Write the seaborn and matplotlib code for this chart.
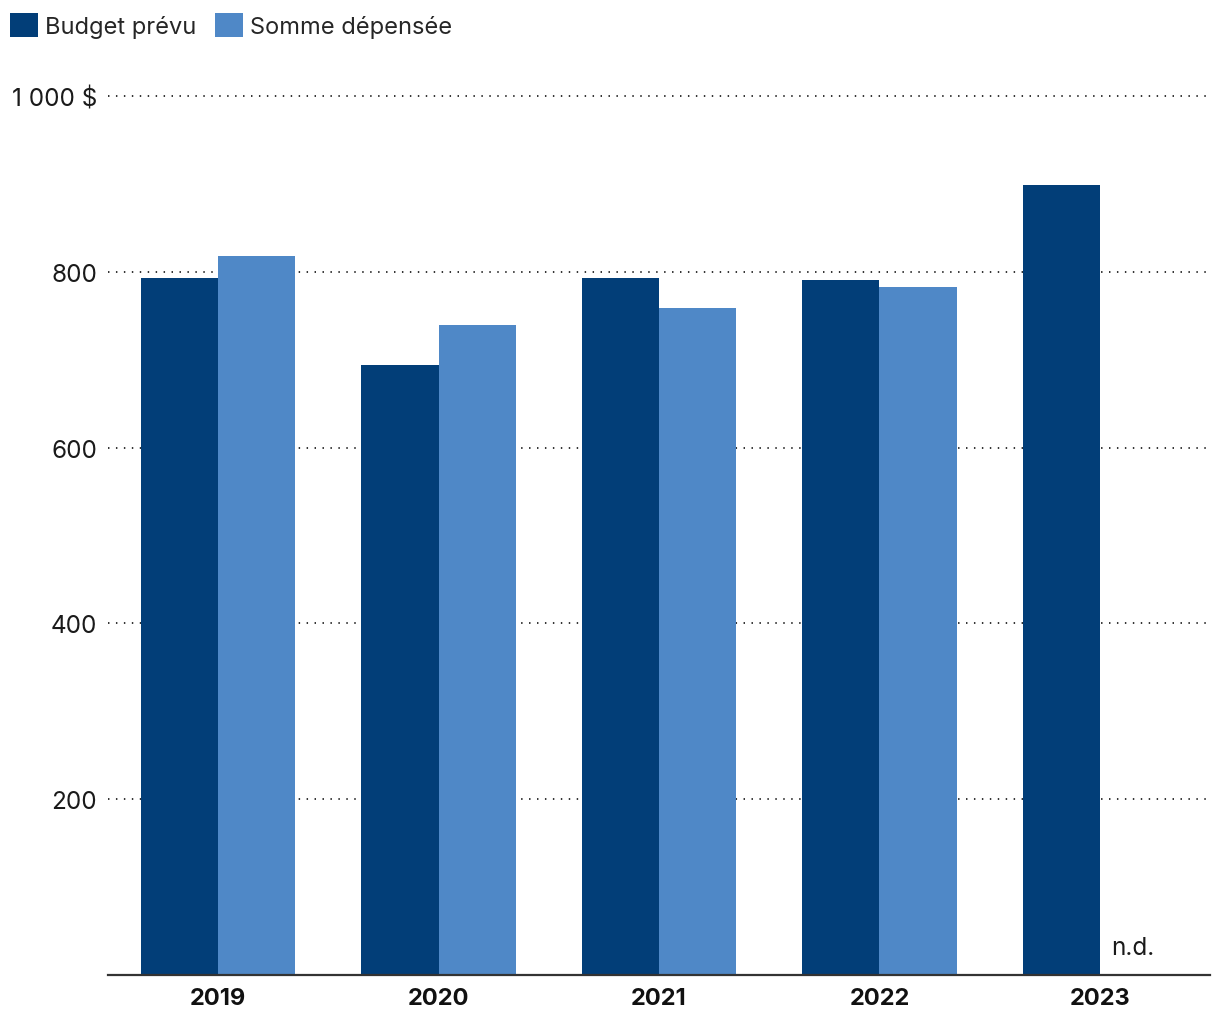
import pandas as pd
import numpy as np
import matplotlib
matplotlib.use('Agg')
import matplotlib.pyplot as plt
import seaborn as sns
from matplotlib.patches import Patch

# Chart data
years = ['2019', '2020', '2021', '2022', '2023']
budget = [793, 694, 793, 791, 899]
spent = [818, 739, 759, 783, np.nan]
series = ['Budget prévu', 'Somme dépensée']
colors = ['#023e78', '#4f88c7']
y_ticks = [200, 400, 600, 800, 1000]
y_labels = ['200', '400', '600', '800', '1 000 $']

df = pd.DataFrame({
    'year': years * 2,
    'value': budget + spent,
    'series': [series[0]] * len(years) + [series[1]] * len(years),
})

sns.set_theme(style='white')
plt.rcParams['font.family'] = ['Inter', 'DejaVu Sans']

fig = plt.figure(figsize=(12.2, 10.2), dpi=100)
ax = fig.add_axes([108 / 1220, 44 / 1020, (1210 - 108) / 1220, (976 - 97) / 1020])

sns.barplot(data=df, x='year', y='value', hue='series', palette=colors,
            width=0.7, gap=0, saturation=1, legend=False, linewidth=0,
            edgecolor='none', ax=ax, zorder=2)

ax.set_xlim(-0.5, 4.5)
ax.set_ylim(0, 1000)
ax.set_yticks(y_ticks)
ax.set_yticklabels(y_labels)
ax.set_xlabel('')
ax.set_ylabel('')

for y in y_ticks:
    ax.axhline(y, color='#222222', lw=1.3, ls=(0, (0.8, 3.6)), zorder=1, clip_on=False)

for side in ['top', 'right', 'left']:
    ax.spines[side].set_visible(False)
ax.spines['bottom'].set_color('#333333')
ax.spines['bottom'].set_linewidth(1.6)

ax.tick_params(axis='y', length=0, pad=8, labelsize=17.5, labelcolor='#1a1a1a')
ax.tick_params(axis='x', length=0, pad=9, labelsize=17, labelcolor='#111111')
for lbl in ax.get_xticklabels():
    lbl.set_fontweight('bold')

# no data for 2023 spending
ax.text(4.15, 18, 'n.d.', ha='center', va='bottom', fontsize=17.5, color='#1a1a1a')

handles = [Patch(facecolor=c, edgecolor='none') for c in colors]
fig.legend(handles, series, loc='upper left', bbox_to_anchor=(0.008, 0.986), ncol=2,
           frameon=False, fontsize=17, handlelength=1.18, handleheight=1.18,
           handletextpad=0.3, columnspacing=0.8, borderpad=0, borderaxespad=0)

plt.savefig('out.png', dpi=100)
